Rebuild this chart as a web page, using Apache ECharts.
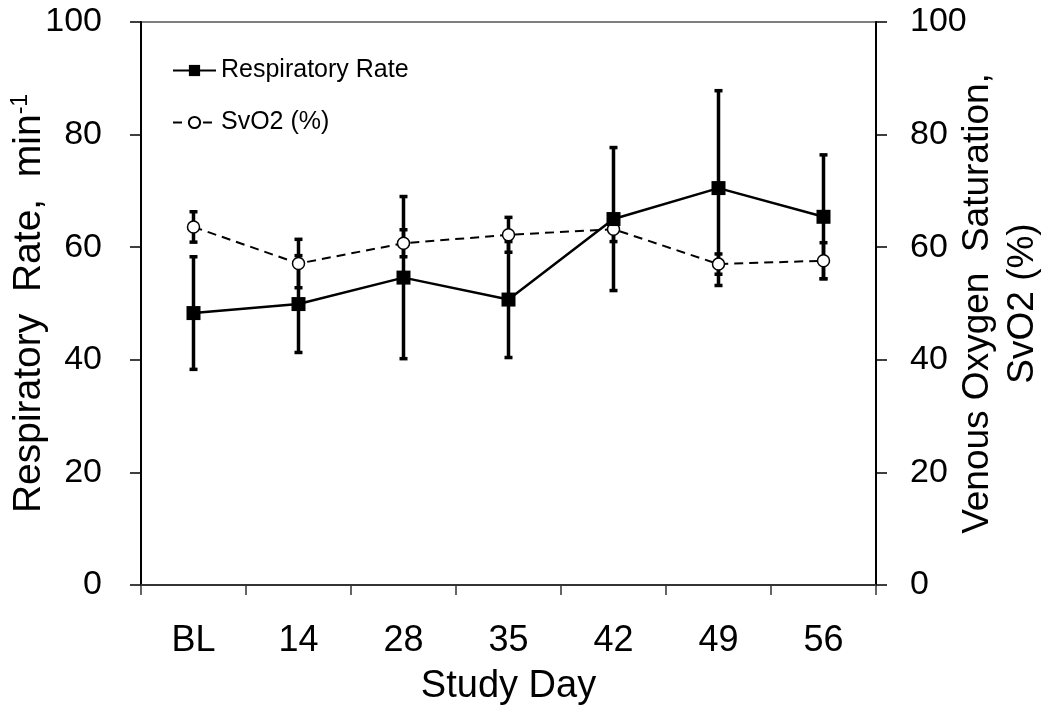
<!DOCTYPE html>
<html>
<head>
<meta charset="utf-8">
<script src="https://cdn.jsdelivr.net/npm/echarts@6/dist/echarts.min.js"></script>
<style>html,body{margin:0;padding:0;background:#fff;}#c{width:1050px;height:717px;}</style>
</head>
<body>
<div id="c"></div>
<script>
const categories = ['BL', '14', '28', '35', '42', '49', '56'];
const rrMean = [48.3, 49.9, 54.6, 50.7, 65.0, 70.5, 65.4];
const rrSD   = [10.0, 8.6, 14.4, 10.3, 12.7, 17.3, 11.0];
const svMean = [63.6, 57.1, 60.7, 62.2, 63.2, 57.0, 57.6];
const svSD   = [2.7, 4.3, 2.4, 3.1, 2.2, 1.8, 3.2];

const FONT = "'Liberation Sans', Arial, sans-serif";
const chart = echarts.init(document.getElementById('c'));

function errData(mean, sd) {
  return mean.map((m, i) => [i, m - sd[i], m + sd[i]]);
}
function renderErr(params, api) {
  const lo = api.coord([api.value(0), api.value(1)]);
  const hi = api.coord([api.value(0), api.value(2)]);
  const cw = 4;
  const st = { stroke: '#000', lineWidth: 3.5 };
  return {
    type: 'group',
    children: [
      { type: 'line', shape: { x1: lo[0], y1: lo[1], x2: hi[0], y2: hi[1] }, style: st },
      { type: 'line', shape: { x1: lo[0] - cw, y1: lo[1], x2: lo[0] + cw, y2: lo[1] }, style: st },
      { type: 'line', shape: { x1: hi[0] - cw, y1: hi[1], x2: hi[0] + cw, y2: hi[1] }, style: st }
    ]
  };
}

const yCommon = {
  type: 'value', min: 0, max: 100, interval: 20,
  splitLine: { show: false },
  axisLine: { show: true, lineStyle: { color: '#000', width: 2 } },
  axisTick: { show: true, inside: false, length: 11, lineStyle: { color: '#000', width: 1.5 } },
  nameLocation: 'middle',
  nameRotate: 90,
  nameMoveOverlap: false
};

chart.setOption({
  animation: false,
  backgroundColor: '#fff',
  textStyle: { fontFamily: FONT },
  grid: { left: 141, right: 174, top: 22, bottom: 132, containLabel: false, outerBoundsMode: 'none',
    show: true, borderColor: '#555', borderWidth: 1.5 },
  legend: {
    data: ['Respiratory Rate', 'SvO2 (%)'],
    orient: 'vertical',
    left: 172, top: 58, padding: 0,
    itemWidth: 43, itemHeight: 14, itemGap: 27,
    textStyle: { fontFamily: FONT, fontSize: 25, color: '#000' }
  },
  xAxis: {
    type: 'category', data: categories, boundaryGap: true,
    axisLine: { lineStyle: { color: '#333', width: 2 } },
    axisTick: { show: true, length: 10, lineStyle: { color: '#333', width: 1.5 } },
    axisLabel: { fontFamily: FONT, fontSize: 36, color: '#000', margin: 38 },
    name: 'Study Day', nameLocation: 'middle', nameGap: 83, nameMoveOverlap: false,
    nameTextStyle: { fontFamily: FONT, fontSize: 38, color: '#000' }
  },
  yAxis: [
    Object.assign({}, yCommon, {
      position: 'left',
      axisLabel: { fontFamily: FONT, fontSize: 34, color: '#000', margin: 39 },
      name: 'Respiratory  Rate,  min{sup|-1}',
      nameGap: 92,
      nameTextStyle: { fontFamily: FONT, fontSize: 39, color: '#000',
        rich: { sup: { fontFamily: FONT, fontSize: 23, color: '#000', padding: [0, 0, 17, 0] } } }
    }),
    Object.assign({}, yCommon, {
      position: 'right',
      axisLabel: { fontFamily: FONT, fontSize: 34, color: '#000', margin: 34 },
      name: 'Venous Oxygen  Saturation,\nSvO2 (%)',
      nameGap: 79,
      nameTextStyle: { fontFamily: FONT, fontSize: 37, color: '#000', lineHeight: 45, verticalAlign: 'top' }
    })
  ],
  series: [
    {
      type: 'custom', yAxisIndex: 0, renderItem: renderErr,
      encode: { x: 0, y: [1, 2] }, data: errData(rrMean, rrSD), z: 2, silent: true
    },
    {
      type: 'custom', yAxisIndex: 1, renderItem: renderErr,
      encode: { x: 0, y: [1, 2] }, data: errData(svMean, svSD), z: 2, silent: true
    },
    {
      name: 'SvO2 (%)', type: 'line', yAxisIndex: 1, data: svMean, z: 3,
      symbol: 'circle', symbolSize: 12,
      itemStyle: { color: '#fff', borderColor: '#000', borderWidth: 1.5 },
      lineStyle: { color: '#000', width: 2, type: [9, 6] }
    },
    {
      name: 'Respiratory Rate', type: 'line', yAxisIndex: 0, data: rrMean, z: 4,
      symbol: 'rect', symbolSize: 14,
      itemStyle: { color: '#000' },
      lineStyle: { color: '#000', width: 2.5 }
    }
  ]
});
</script>
</body>
</html>
